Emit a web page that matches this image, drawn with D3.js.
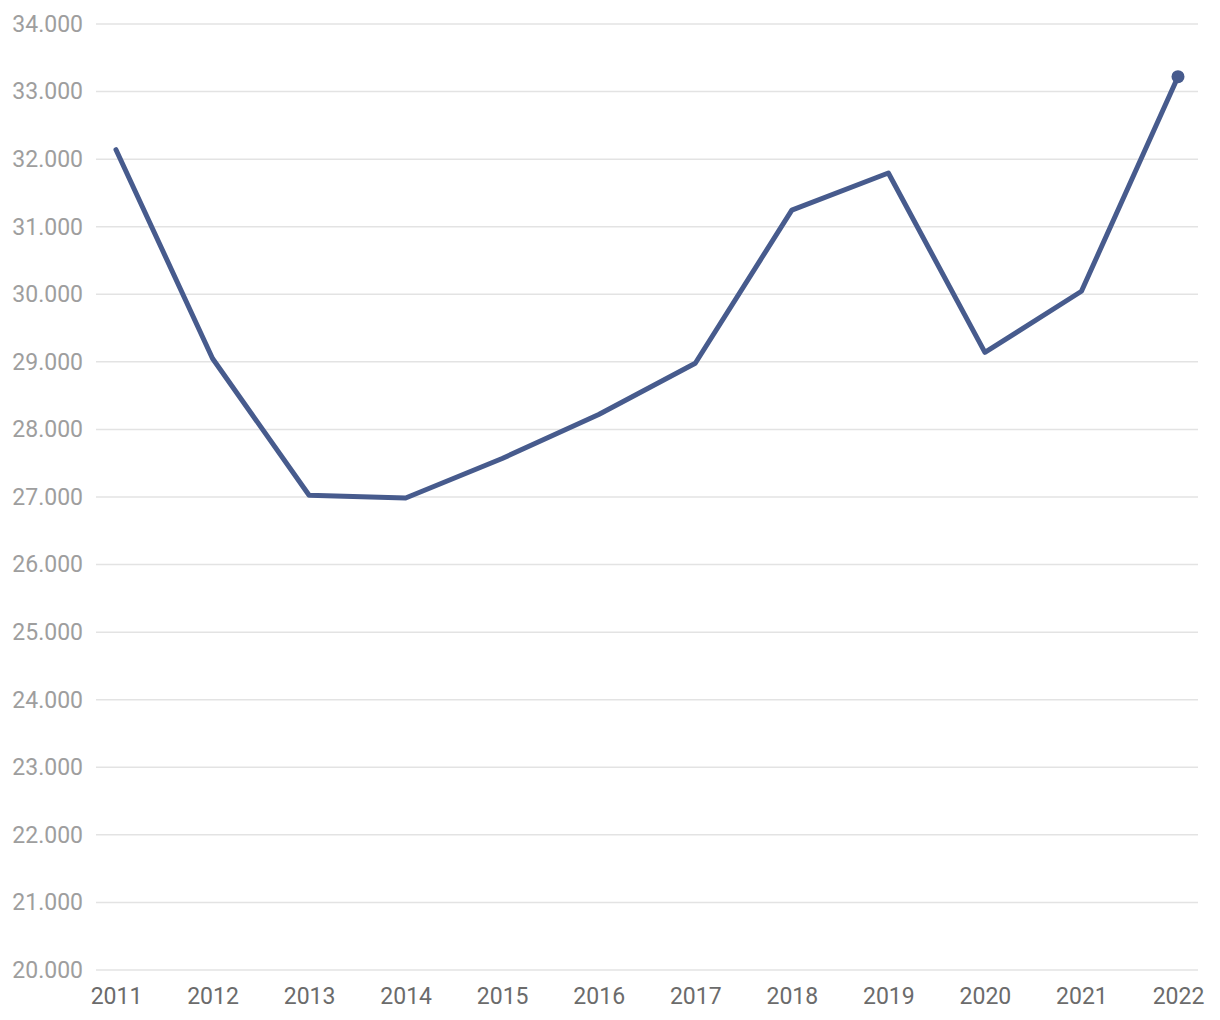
<!DOCTYPE html>
<html><head><meta charset="utf-8">
<script src="https://cdn.jsdelivr.net/npm/d3@7"></script>
<style>body{margin:0;background:#fff;font-family:Roboto,sans-serif;}</style>
</head><body><svg id="c" width="1220" height="1020"></svg>
<script>
const years = ["2011","2012","2013","2014","2015","2016","2017","2018","2019","2020","2021","2022"];
const values = [32140, 29050, 27025, 26985, 27570, 28220, 28980, 31245, 31795, 29140, 30045, 33220];
const yTicks = [20000,21000,22000,23000,24000,25000,26000,27000,28000,29000,30000,31000,32000,33000,34000];

const svg = d3.select("#c");
const x = d3.scalePoint().domain(years).range([116, 1178]);
const y = d3.scaleLinear().domain([20000, 34000]).range([970, 24]);
const lab = v => (v/1000).toFixed(0) + ".000";

const grid = svg.append("g");
grid.selectAll("line").data(yTicks).join("line")
  .attr("x1", 96).attr("x2", 1198)
  .attr("y1", d => y(d)).attr("y2", d => y(d))
  .attr("stroke", "#e3e3e3").attr("stroke-width", 1.5);

const yAxis = d3.axisLeft(y).tickValues(yTicks).tickFormat(lab).tickSize(0).tickPadding(0);
svg.append("g").attr("transform", "translate(83,0)").call(yAxis)
  .call(g => g.select(".domain").remove())
  .call(g => g.selectAll("text").attr("fill", "#9e9e9e").attr("font-size", 23).attr("font-family", "Roboto"));

const xAxis = d3.axisBottom(x).tickSize(0).tickPadding(0);
svg.append("g").attr("transform", "translate(0,988)").call(xAxis)
  .call(g => g.select(".domain").remove())
  .call(g => g.selectAll("text").attr("fill", "#6b6b6b").attr("font-size", 23).attr("font-family", "Roboto").attr("dy", "0.71em"));

const line = d3.line().x((d, i) => x(years[i])).y(d => y(d));
svg.append("path").datum(values).attr("d", line)
  .attr("fill", "none").attr("stroke", "#475b8d").attr("stroke-width", 5)
  .attr("stroke-linejoin", "round").attr("stroke-linecap", "round");

svg.append("circle").attr("cx", x(years[years.length-1])).attr("cy", y(values[values.length-1]))
  .attr("r", 6.5).attr("fill", "#475b8d");
</script></body></html>
